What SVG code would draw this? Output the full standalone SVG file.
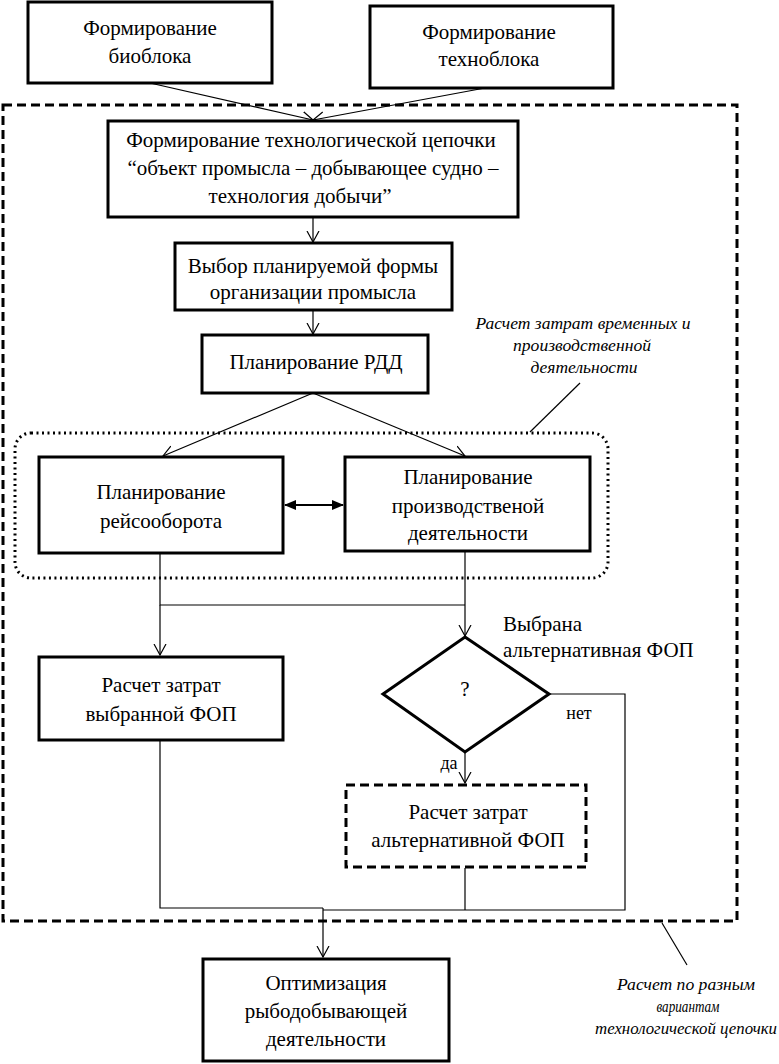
<svg xmlns="http://www.w3.org/2000/svg" width="779" height="1064" viewBox="0 0 779 1064">
<style>
.box{fill:#fff;stroke:#000;stroke-width:3}
.dbox{fill:#fff;stroke:#000;stroke-width:3;stroke-dasharray:9,5}
.ln{fill:none;stroke:#000;stroke-width:1.2}
</style>
<defs>
<marker id="open" markerWidth="12" markerHeight="14" refX="11" refY="7" orient="auto" markerUnits="userSpaceOnUse">
<path d="M0,1 L11,7 L0,13" fill="none" stroke="#000" stroke-width="1.2"/>
</marker>
<marker id="fill" markerWidth="12" markerHeight="10" refX="11" refY="5" orient="auto-start-reverse" markerUnits="userSpaceOnUse">
<path d="M0,0 L12,5 L0,10 Z" fill="#000"/>
</marker>
</defs>
<rect width="779" height="1064" fill="#fff"/>
<g id="frame">
<rect x="3" y="105" width="734" height="816" fill="none" stroke="#000" stroke-width="3" stroke-dasharray="9,5"/>
<rect x="15" y="433" width="593" height="145" rx="16" fill="none" stroke="#000" stroke-width="3" stroke-dasharray="2,3.5"/>
</g>
<g id="connectors">
<line class="ln" x1="150" y1="83" x2="313" y2="120" marker-end="url(#open)"/>
<line class="ln" x1="485" y1="88" x2="313" y2="120" marker-end="url(#open)"/>
<line class="ln" x1="313" y1="217" x2="313" y2="242" marker-end="url(#open)"/>
<line class="ln" x1="313" y1="310" x2="313" y2="334" marker-end="url(#open)"/>
<line class="ln" x1="313" y1="393" x2="163" y2="456" marker-end="url(#open)"/>
<line class="ln" x1="313" y1="393" x2="465" y2="456" marker-end="url(#open)"/>
<line x1="285" y1="505" x2="343" y2="505" stroke="#000" stroke-width="2" marker-start="url(#fill)" marker-end="url(#fill)"/>
<polyline class="ln" points="160,554 160,605 465,605"/>
<line class="ln" x1="465" y1="552" x2="465" y2="605"/>
<line class="ln" x1="160" y1="605" x2="160" y2="655" marker-end="url(#open)"/>
<line class="ln" x1="465" y1="605" x2="465" y2="636" marker-end="url(#open)"/>
<line class="ln" x1="465" y1="752" x2="465" y2="783" marker-end="url(#open)"/>
<polyline class="ln" points="549,694 625,694 625,910 323,910"/>
<line class="ln" x1="465" y1="868" x2="465" y2="910"/>
<polyline class="ln" points="160,741 160,908 323,908"/>
<line class="ln" x1="323" y1="908" x2="323" y2="957" marker-end="url(#open)"/>
<line class="ln" x1="580" y1="383" x2="530" y2="432"/>
<line class="ln" x1="662" y1="923" x2="687" y2="965"/>
</g>
<g id="n-bio">
<rect class="box" x="28" y="2" width="244" height="81"/>
<text style="font-family:'Liberation Serif',serif;font-size:21px" text-anchor="middle" x="150" y="35">Формирование</text>
<text style="font-family:'Liberation Serif',serif;font-size:21px" text-anchor="middle" x="150" y="63">биоблока</text>
</g>
<g id="n-techno">
<rect class="box" x="370" y="6" width="243" height="82"/>
<text style="font-family:'Liberation Serif',serif;font-size:21px" text-anchor="middle" x="489" y="39">Формирование</text>
<text style="font-family:'Liberation Serif',serif;font-size:21px" text-anchor="middle" x="489" y="66">техноблока</text>
</g>
<g id="n-chain">
<rect class="box" x="108" y="121" width="410" height="96"/>
<text style="font-family:'Liberation Serif',serif;font-size:21px" text-anchor="middle" x="311" y="147">Формирование технологической цепочки</text>
<text style="font-family:'Liberation Serif',serif;font-size:21px" text-anchor="middle" x="313" y="175">“объект промысла – добывающее судно –</text>
<text style="font-family:'Liberation Serif',serif;font-size:21px" text-anchor="middle" x="300" y="203">технология добычи”</text>
</g>
<g id="n-form">
<rect class="box" x="175" y="243" width="277" height="67"/>
<text style="font-family:'Liberation Serif',serif;font-size:21px" text-anchor="middle" x="313" y="273">Выбор планируемой формы</text>
<text style="font-family:'Liberation Serif',serif;font-size:21px" text-anchor="middle" x="313" y="299">организации промысла</text>
</g>
<g id="n-rdd">
<rect class="box" x="202" y="335" width="226" height="58"/>
<text style="font-family:'Liberation Serif',serif;font-size:21px" text-anchor="middle" x="316" y="369">Планирование РДД</text>
</g>
<g id="n-reis">
<rect class="box" x="39" y="457" width="244" height="96"/>
<text style="font-family:'Liberation Serif',serif;font-size:21px" text-anchor="middle" x="161" y="499">Планирование</text>
<text style="font-family:'Liberation Serif',serif;font-size:21px" text-anchor="middle" x="161" y="528">рейсооборота</text>
</g>
<g id="n-prod">
<rect class="box" x="345" y="457" width="245" height="94"/>
<text style="font-family:'Liberation Serif',serif;font-size:21px" text-anchor="middle" x="468" y="484">Планирование</text>
<text style="font-family:'Liberation Serif',serif;font-size:21px" text-anchor="middle" x="468" y="513">производственой</text>
<text style="font-family:'Liberation Serif',serif;font-size:21px" text-anchor="middle" x="468" y="540">деятельности</text>
</g>
<g id="n-calc1">
<rect class="box" x="39" y="657" width="244" height="83"/>
<text style="font-family:'Liberation Serif',serif;font-size:21px" text-anchor="middle" x="161" y="692">Расчет затрат</text>
<text style="font-family:'Liberation Serif',serif;font-size:21px" text-anchor="middle" x="161" y="721">выбранной ФОП</text>
</g>
<g id="n-dec">
<polygon points="465,637 549,694 465,752 383,694" fill="#fff" stroke="#000" stroke-width="3"/>
<text style="font-family:'Liberation Serif',serif;font-size:21px" text-anchor="middle" x="465" y="696">?</text>
</g>
<g id="n-calc2">
<rect class="dbox" x="346" y="785" width="240" height="82"/>
<text style="font-family:'Liberation Serif',serif;font-size:21px" text-anchor="middle" x="468" y="819">Расчет затрат</text>
<text style="font-family:'Liberation Serif',serif;font-size:21px" text-anchor="middle" x="468" y="847">альтернативной ФОП</text>
</g>
<g id="n-opt">
<rect class="box" x="203" y="959" width="246" height="102"/>
<text style="font-family:'Liberation Serif',serif;font-size:21px" text-anchor="middle" x="326" y="990">Оптимизация</text>
<text style="font-family:'Liberation Serif',serif;font-size:21px" text-anchor="middle" x="326" y="1018">рыбодобывающей</text>
<text style="font-family:'Liberation Serif',serif;font-size:21px" text-anchor="middle" x="326" y="1046">деятельности</text>
</g>
<g id="labels">
<text style="font-family:'Liberation Serif',serif;font-size:21px" x="503" y="631">Выбрана</text>
<text style="font-family:'Liberation Serif',serif;font-size:21px" x="503" y="657">альтернативная ФОП</text>
<text style="font-family:'Liberation Serif',serif;font-size:18px" text-anchor="middle" x="579" y="719">нет</text>
<text style="font-family:'Liberation Serif',serif;font-size:18px" text-anchor="middle" x="449" y="769">да</text>
<text style="font-family:'Liberation Serif',serif;font-size:17px;font-style:italic" text-anchor="middle" x="583" y="329" textLength="215" lengthAdjust="spacingAndGlyphs">Расчет затрат временных и</text>
<text style="font-family:'Liberation Serif',serif;font-size:17px;font-style:italic" text-anchor="middle" x="582" y="351" textLength="138" lengthAdjust="spacingAndGlyphs">производственной</text>
<text style="font-family:'Liberation Serif',serif;font-size:17px;font-style:italic" text-anchor="middle" x="584" y="373" textLength="107" lengthAdjust="spacingAndGlyphs">деятельности</text>
<text style="font-family:'Liberation Serif',serif;font-size:17px;font-style:italic" text-anchor="middle" x="686" y="990" textLength="138" lengthAdjust="spacingAndGlyphs">Расчет по разным</text>
<text style="font-family:'Liberation Serif',serif;font-size:17px;font-style:italic" text-anchor="middle" x="688" y="1012" textLength="63" lengthAdjust="spacingAndGlyphs">вариантам</text>
<text style="font-family:'Liberation Serif',serif;font-size:17px;font-style:italic" text-anchor="middle" x="686" y="1034" textLength="182" lengthAdjust="spacingAndGlyphs">технологической цепочки</text>
</g>
</svg>
